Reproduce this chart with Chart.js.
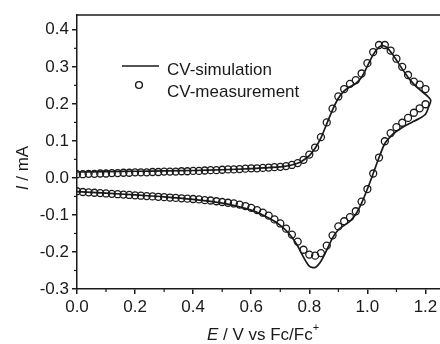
<!DOCTYPE html>
<html>
<head>
<meta charset="utf-8">
<script src="https://cdn.jsdelivr.net/npm/chart.js@4.4.1/dist/chart.umd.min.js"></script>
<style>
  html, body { margin: 0; padding: 0; background: #fff; }
</style>
</head>
<body>
<canvas id="cv" width="440" height="344"></canvas>
<script>
// measured CV, forward (anodic) scan
const measForwardE = [0.00, 0.02, 0.04, 0.06, 0.08, 0.10, 0.12, 0.14, 0.16, 0.18,
  0.20, 0.22, 0.24, 0.26, 0.28, 0.30, 0.32, 0.34, 0.36, 0.38,
  0.40, 0.42, 0.44, 0.46, 0.48, 0.50, 0.52, 0.54, 0.56, 0.58,
  0.60, 0.62, 0.64, 0.66, 0.68, 0.70, 0.72, 0.74, 0.76, 0.78,
  0.80, 0.82, 0.84, 0.86, 0.88, 0.90, 0.92, 0.94, 0.96, 0.98,
  1.00, 1.02, 1.04, 1.06, 1.08, 1.10, 1.12, 1.14, 1.16, 1.18, 1.20];
const measForwardI = [0.010, 0.010, 0.011, 0.011, 0.012, 0.012, 0.013, 0.013, 0.014, 0.014,
  0.015, 0.015, 0.015, 0.016, 0.016, 0.017, 0.017, 0.017, 0.018, 0.018,
  0.019, 0.019, 0.020, 0.021, 0.021, 0.022, 0.023, 0.023, 0.024, 0.025,
  0.026, 0.026, 0.027, 0.028, 0.029, 0.030, 0.032, 0.035, 0.040, 0.049,
  0.063, 0.082, 0.110, 0.150, 0.187, 0.220, 0.240, 0.254, 0.264, 0.282,
  0.310, 0.340, 0.359, 0.359, 0.344, 0.322, 0.300, 0.278, 0.260, 0.252, 0.240];

// measured CV, reverse (cathodic) scan
const measReverseE = [1.20, 1.18, 1.16, 1.14, 1.12, 1.10, 1.08, 1.06, 1.04, 1.02,
  1.00, 0.98, 0.96, 0.94, 0.92, 0.90, 0.88, 0.86, 0.84, 0.82,
  0.80, 0.78, 0.76, 0.74, 0.72, 0.70, 0.68, 0.66, 0.64, 0.62,
  0.60, 0.58, 0.56, 0.54, 0.52, 0.50, 0.48, 0.46, 0.44, 0.42,
  0.40, 0.38, 0.36, 0.34, 0.32, 0.30, 0.28, 0.26, 0.24, 0.22,
  0.20, 0.18, 0.16, 0.14, 0.12, 0.10, 0.08, 0.06, 0.04, 0.02, 0.00];
const measReverseI = [0.199, 0.188, 0.176, 0.162, 0.149, 0.137, 0.121, 0.099, 0.055, 0.012,
  -0.030, -0.064, -0.090, -0.106, -0.117, -0.131, -0.155, -0.183, -0.203, -0.210,
  -0.207, -0.194, -0.172, -0.153, -0.137, -0.123, -0.112, -0.102, -0.094, -0.087,
  -0.081, -0.076, -0.072, -0.069, -0.067, -0.065, -0.063, -0.061, -0.060, -0.058,
  -0.057, -0.056, -0.055, -0.054, -0.053, -0.052, -0.051, -0.050, -0.049, -0.048,
  -0.047, -0.046, -0.045, -0.044, -0.043, -0.042, -0.041, -0.040, -0.039, -0.038, -0.036];

// simulated CV (forward then reverse)
const simE = [0.00, 0.10, 0.20, 0.30, 0.40, 0.50, 0.60, 0.66, 0.70, 0.74,
  0.77, 0.80, 0.82, 0.84, 0.86, 0.88, 0.90, 0.92, 0.94, 0.96,
  0.98, 1.00, 1.02, 1.04, 1.055, 1.07, 1.09, 1.11, 1.13, 1.15,
  1.17, 1.19, 1.205, 1.218,
  1.21, 1.20, 1.18, 1.16, 1.14, 1.12, 1.10, 1.08, 1.06, 1.04,
  1.02, 1.00, 0.98, 0.96, 0.94, 0.92, 0.90, 0.88, 0.86, 0.84,
  0.82, 0.80, 0.78, 0.76, 0.74, 0.72, 0.70, 0.68, 0.65, 0.60,
  0.55, 0.50, 0.40, 0.30, 0.20, 0.10, 0.00];
const simI = [0.016, 0.017, 0.018, 0.019, 0.020, 0.022, 0.025, 0.028, 0.030, 0.035,
  0.043, 0.060, 0.080, 0.108, 0.146, 0.184, 0.215, 0.235, 0.246, 0.255,
  0.272, 0.302, 0.333, 0.353, 0.357, 0.350, 0.330, 0.306, 0.283, 0.262,
  0.245, 0.232, 0.222, 0.210,
  0.190, 0.172, 0.161, 0.153, 0.145, 0.136, 0.126, 0.112, 0.093, 0.055,
  0.012, -0.030, -0.068, -0.098, -0.117, -0.128, -0.140, -0.162, -0.195, -0.225,
  -0.242, -0.238, -0.214, -0.184, -0.160, -0.142, -0.128, -0.117, -0.104, -0.087,
  -0.076, -0.068, -0.058, -0.051, -0.046, -0.041, -0.037];

const xTicks = [0, 0.2, 0.4, 0.6, 0.8, 1.0, 1.2];
const xMinorTicks = [0.1, 0.3, 0.5, 0.7, 0.9, 1.1];
const yTicks = [-0.3, -0.2, -0.1, 0, 0.1, 0.2, 0.3, 0.4];
const yMinorTicks = [-0.25, -0.15, -0.05, 0.05, 0.15, 0.25, 0.35];

const ink = '#1a1a1a';
const fontFamily = '"Liberation Sans", Arial, sans-serif';

const measPoints = measForwardE.map((e, i) => ({ x: e, y: measForwardI[i] }))
  .concat(measReverseE.map((e, i) => ({ x: e, y: measReverseI[i] })));
const simPoints = simE.map((e, i) => ({ x: e, y: simI[i] }));

// minor ticks, top frame line, axis titles and legend
const decor = {
  id: 'decor',
  afterDraw(chart) {
    const ctx = chart.ctx;
    const area = chart.chartArea;
    const xs = chart.scales.x, ys = chart.scales.y;
    ctx.save();
    ctx.strokeStyle = ink;
    ctx.lineWidth = 1.5;
    ctx.beginPath();
    ctx.moveTo(area.left, area.top);
    ctx.lineTo(chart.width, area.top);
    ctx.stroke();

    ctx.lineWidth = 1.2;
    xMinorTicks.forEach(v => {
      const px = xs.getPixelForValue(v);
      ctx.beginPath();
      ctx.moveTo(px, area.bottom);
      ctx.lineTo(px, area.bottom + 3);
      ctx.stroke();
    });
    yMinorTicks.forEach(v => {
      const py = ys.getPixelForValue(v);
      ctx.beginPath();
      ctx.moveTo(area.left, py);
      ctx.lineTo(area.left - 3, py);
      ctx.stroke();
    });

    ctx.fillStyle = ink;
    ctx.textBaseline = 'alphabetic';
    ctx.textAlign = 'left';

    // x title: E / V vs Fc/Fc+
    const italic = 'italic 17px ' + fontFamily;
    const normal = '17px ' + fontFamily;
    const small = '11px ' + fontFamily;
    ctx.font = italic;
    const wE = ctx.measureText('E').width;
    ctx.font = normal;
    const rest = ' / V vs Fc/Fc';
    const wRest = ctx.measureText(rest).width;
    ctx.font = small;
    const wPlus = ctx.measureText('+').width;
    let tx = 263 - (wE + wRest + wPlus) / 2;
    const ty = 340;
    ctx.font = italic;
    ctx.fillText('E', tx, ty);
    tx += wE;
    ctx.font = normal;
    ctx.fillText(rest, tx, ty);
    tx += wRest;
    ctx.font = small;
    ctx.fillText('+', tx, ty - 9);

    // y title: I / mA
    ctx.save();
    ctx.translate(28, 168);
    ctx.rotate(-Math.PI / 2);
    ctx.font = italic;
    const wI = ctx.measureText('I').width;
    ctx.font = normal;
    const yRest = ' / mA';
    const wY = ctx.measureText(yRest).width;
    let ux = -(wI + wY) / 2;
    ctx.font = italic;
    ctx.fillText('I', ux, 0);
    ux += wI;
    ctx.font = normal;
    ctx.fillText(yRest, ux, 0);
    ctx.restore();

    // legend
    ctx.lineWidth = 1.6;
    ctx.beginPath();
    ctx.moveTo(122, 66);
    ctx.lineTo(159, 66);
    ctx.stroke();
    ctx.lineWidth = 1.4;
    ctx.beginPath();
    ctx.arc(139, 85, 3.4, 0, Math.PI * 2);
    ctx.stroke();
    ctx.font = normal;
    ctx.fillText('CV-simulation', 167, 75);
    ctx.fillText('CV-measurement', 167, 97);
    ctx.restore();
  }
};

new Chart(document.getElementById('cv'), {
  type: 'scatter',
  data: {
    datasets: [
      {
        label: 'CV-measurement',
        data: measPoints,
        showLine: false,
        pointStyle: 'circle',
        pointRadius: 3.5,
        pointBorderWidth: 1.3,
        pointBorderColor: ink,
        pointBackgroundColor: 'rgba(0,0,0,0)',
        order: 1
      },
      {
        label: 'CV-simulation',
        data: simPoints,
        showLine: true,
        borderColor: ink,
        borderWidth: 1.7,
        pointRadius: 0,
        tension: 0.3,
        fill: false,
        order: 2
      }
    ]
  },
  options: {
    responsive: false,
    animation: false,
    layout: { autoPadding: false, padding: { top: 15, right: 0, left: 0, bottom: 0 } },
    plugins: { legend: { display: false }, tooltip: { enabled: false } },
    scales: {
      x: {
        type: 'linear',
        min: 0,
        max: 1.25,
        afterBuildTicks: s => { s.ticks = xTicks.map(v => ({ value: v })); },
        afterFit: s => { s.height = 55; s.paddingLeft = 0; s.paddingRight = 0; },
        ticks: {
          callback: v => v.toFixed(1),
          font: { family: fontFamily, size: 17 },
          color: ink,
          padding: 3,
          maxRotation: 0,
          autoSkip: false
        },
        grid: { drawOnChartArea: false, drawTicks: true, tickLength: 5, color: ink, lineWidth: 1.5 },
        border: { color: ink, width: 1.5 }
      },
      y: {
        type: 'linear',
        min: -0.3,
        max: 0.44,
        afterBuildTicks: s => { s.ticks = yTicks.map(v => ({ value: v })); },
        afterFit: s => { s.width = 77; s.paddingTop = 0; s.paddingBottom = 0; },
        ticks: {
          callback: v => v.toFixed(1),
          font: { family: fontFamily, size: 17 },
          color: ink,
          padding: 3,
          autoSkip: false
        },
        grid: { drawOnChartArea: false, drawTicks: true, tickLength: 5, color: ink, lineWidth: 1.5 },
        border: { color: ink, width: 1.5 }
      }
    }
  },
  plugins: [decor]
});
</script>
</body>
</html>
